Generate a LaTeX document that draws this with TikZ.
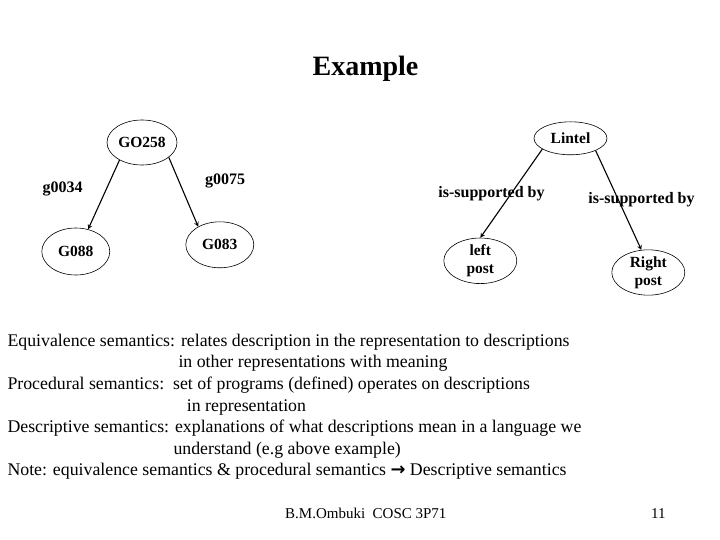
\documentclass[tikz,border=0pt]{standalone}
\usepackage{fontspec}
\setmainfont{Liberation Serif}
\newfontfamily\symfont{DejaVu Sans}
\usepackage{tikz}
\usetikzlibrary{shapes,arrows,positioning}

\begin{document}
\begin{tikzpicture}[
    x=1pt, y=-1pt,
    concept/.style={ellipse, draw, line width=0.6pt, inner sep=0pt, align=center, font=\fontsize{15.5}{18}\selectfont\bfseries},
    rel/.style={font=\fontsize{16}{18}\selectfont\bfseries, inner sep=0pt},
    body/.style={anchor=base west, inner sep=0pt, font=\fontsize{17.8}{20}\selectfont},
    arrow/.style={->, line width=1.1pt, >=stealth},
]
    \useasboundingbox (0,0) rectangle (720,540);

    % Title
    \node[anchor=base, inner sep=0pt, font=\fontsize{28}{32}\selectfont\bfseries] (title) at (365.5,76) {Example};

    % Gene example
    \node[concept, minimum width=70pt, minimum height=45pt] (go258) at (142,142.5) {GO258};
    \node[concept, minimum width=68pt, minimum height=47pt] (g088) at (75.8,251.5) {G088};
    \node[concept, minimum width=68pt, minimum height=46pt] (g083) at (219.8,244.8) {G083};
    \node[rel] (g0034) at (62.5,188.5) {g0034};
    \node[rel] (g0075) at (225,181) {g0075};

    % Lintel example
    \node[concept, minimum width=73pt, minimum height=33pt] (lintel) at (570.5,138.3) {Lintel};
    \node[concept, minimum width=73pt, minimum height=42pt] (leftpost) at (480.3,260.8) {left\\post};
    \node[concept, minimum width=73pt, minimum height=42pt] (rightpost) at (648.3,272.5) {Right\\post};
    \node[rel, anchor=base] (supl) at (491.5,198) {is-supported by};
    \node[rel, anchor=base] (supr) at (641.5,204) {is-supported by};

    % Arrows
    \draw[arrow] (go258.218) -- (g088.61);
    \draw[arrow] (go258.331) -- (g083.140);
    \draw[arrow] (lintel.201) -- (leftpost.90);
    \draw[arrow] (lintel.334) -- (rightpost.107);

    % Text
    \node[body] (eqv) at (7.3,346.7) {Equivalence semantics: relates description in the representation to descriptions};
    \node[body] (eqvb) at (178.3,367.7) {in other representations with meaning};
    \node[body] (proc) at (7.3,389) {Procedural semantics:\ \ set of programs (defined) operates on descriptions};
    \node[body] (procb) at (186.7,411) {in representation};
    \node[body] (desc) at (7.3,432.3) {Descriptive semantics: explanations of what descriptions mean in a language we};
    \node[body] (descb) at (173.3,454.3) {understand (e.g above example)};
    \node[body] (note) at (7.3,475.7) {Note: equivalence semantics \& procedural semantics {\symfont\bfseries →} Descriptive semantics};

    % Footer
    \node[body, font=\fontsize{15}{17}\selectfont] (foot) at (285,518) {B.M.Ombuki\ \ COSC 3P71};
    \node[body, font=\fontsize{15}{17}\selectfont] (page) at (651,518) {11};

\end{tikzpicture}
\end{document}
